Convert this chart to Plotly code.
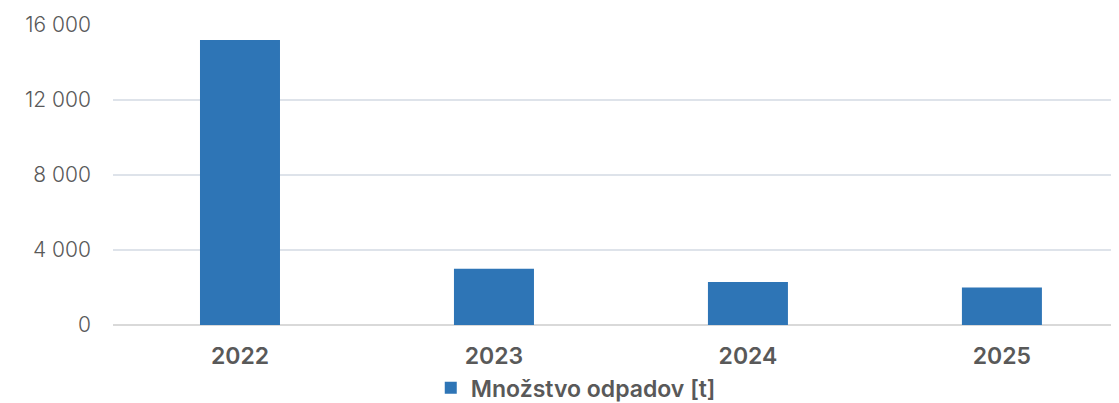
import plotly.graph_objects as go

years = ["2022", "2023", "2024", "2025"]
waste_t = [15200, 3000, 2300, 2000]
series_name = "Množstvo odpadov [t]"
y_ticks = [0, 4000, 8000, 12000, 16000]

fig = go.Figure()
fig.add_trace(go.Bar(
    x=years, y=waste_t, name=series_name,
    marker=dict(color="#2E75B6", line=dict(width=0)),
    width=0.315,
    showlegend=True,
))

fig.update_layout(
    width=1111, height=395,
    margin=dict(l=105, r=0, t=17, b=78, autoexpand=False),
    paper_bgcolor="white", plot_bgcolor="white",
    separators=", ",
    font=dict(family="Inter", color="#595959"),
    showlegend=True,
    legend=dict(orientation="h", x=0.46, xanchor="center", y=-0.138, yanchor="top",
                font=dict(size=23, color="#595959", weight=600),
                itemsizing="constant", itemwidth=30),
    xaxis=dict(
        type="category",
        range=[-0.5, 3.461],
        automargin=False,
        showgrid=False, showline=False, zeroline=False,
        tickfont=dict(size=23, color="#595959", weight=600),
        ticklabelstandoff=15,
    ),
    yaxis=dict(
        range=[0, 16000],
        tickvals=y_ticks,
        tickformat=",d",
        automargin=False,
        showgrid=True, gridcolor="#DEE3EA", gridwidth=1.5,
        zeroline=True, zerolinecolor="#D9D9D9", zerolinewidth=2,
        showline=False,
        tickfont=dict(size=21, color="#595959", weight=300),
        ticklabelstandoff=21,
    ),
    bargap=0.685,
)

fig.write_html("out.html")
